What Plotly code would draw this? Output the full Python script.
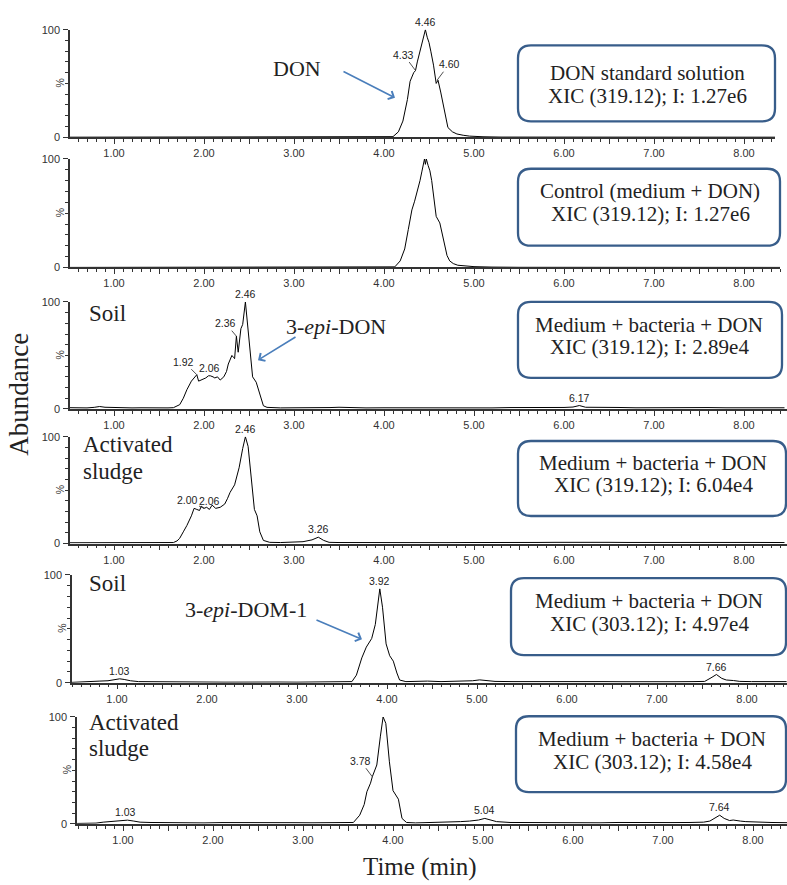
import plotly.graph_objects as go

W, H = 787, 885

# ---------------- data (retention time in min, relative abundance %) ----------------
t_don_std = [0.5, 4.00, 4.10, 4.16, 4.21, 4.26, 4.29, 4.33, 4.35, 4.37, 4.40, 4.42, 4.44, 4.46, 4.48,
             4.50, 4.52, 4.55, 4.58, 4.60, 4.63, 4.66, 4.68, 4.71, 4.76, 4.81, 4.88, 4.95, 5.10, 5.30, 8.40]
y_don_std = [0, 0, 0.5, 5, 15, 35, 52, 60, 62, 70, 80, 85, 94, 100, 93,
             88, 80, 67, 50, 53, 42, 30, 21, 9, 5, 3, 1.8, 1, 0.4, 0.1, 0]

t_control = [0.5, 4.05, 4.12, 4.18, 4.23, 4.27, 4.31, 4.34, 4.37, 4.40, 4.42, 4.44, 4.45, 4.46, 4.47,
             4.49, 4.51, 4.53, 4.55, 4.58, 4.62, 4.66, 4.70, 4.73, 4.77, 4.82, 4.90, 5.00, 5.20, 5.50, 8.40]
y_control = [0, 0, 0.5, 6, 17, 35, 53, 61, 70, 80, 88, 97, 100, 95, 100,
             94, 89, 80, 68, 47, 41, 26, 11, 6, 3.5, 2, 1.2, 0.7, 0.3, 0.1, 0]

t_soil_319 = [0.50, 0.60, 0.70, 0.78, 0.84, 0.90, 1.00, 1.10, 1.20, 1.30,
              1.40, 1.50, 1.60, 1.66, 1.70, 1.73, 1.77, 1.81, 1.86, 1.90,
              1.92, 1.94, 1.97, 1.99, 2.02, 2.05, 2.07, 2.10, 2.12, 2.15,
              2.18, 2.22, 2.25, 2.27, 2.29, 2.31, 2.33, 2.34, 2.36, 2.38,
              2.41, 2.43, 2.46, 2.49, 2.52, 2.54, 2.58, 2.62, 2.66, 2.70,
              2.76, 2.85, 3.00, 3.20, 3.40, 3.50, 3.60, 3.80, 4.00, 4.20,
              4.40, 4.60, 4.80, 5.00, 5.20, 5.40, 5.60, 5.80, 6.00, 6.10,
              6.17, 6.24, 6.40, 6.60, 6.80, 7.00, 7.20, 7.40, 7.60, 7.80,
              8.00, 8.20, 8.45]
y_soil_319 = [1.2, 1.0, 1.0, 1.5, 2.3, 1.6, 1.2, 1.3, 1.0, 1.1,
              0.9, 1.0, 1.0, 1.2, 2.5, 4, 10, 18, 26, 30,
              32, 26, 27, 28, 29, 31, 31, 30, 29, 30,
              27, 30, 35, 42, 47, 50, 48, 47, 68, 53,
              75, 79, 100, 75, 45, 30, 25, 14, 3, 1.5,
              1.2, 1.0, 1.1, 0.9, 1.3, 1.6, 1.2, 1.0, 1.1, 1.0,
              1.2, 1.4, 1.1, 1.2, 1.0, 1.3, 1.2, 1.1, 1.4, 1.8,
              3.2, 1.6, 1.2, 1.4, 1.1, 1.3, 1.2, 1.0, 1.3, 1.1,
              1.2, 1.0, 1.1]

t_sludge_319 = [0.50, 0.60, 0.70, 0.81, 0.90, 1.00, 1.10, 1.20, 1.30, 1.40,
                1.50, 1.60, 1.66, 1.70, 1.73, 1.77, 1.81, 1.86, 1.89, 1.92,
                1.95, 1.97, 2.00, 2.03, 2.06, 2.09, 2.13, 2.18, 2.23, 2.26,
                2.29, 2.34, 2.39, 2.43, 2.46, 2.49, 2.52, 2.56, 2.59, 2.62,
                2.66, 2.73, 2.85, 2.99, 3.10, 3.20, 3.27, 3.33, 3.39, 3.50,
                3.70, 3.90, 4.10, 4.30, 4.50, 4.70, 4.90, 5.10, 5.30, 5.50,
                5.70, 5.90, 6.10, 6.30, 6.50, 6.70, 6.90, 7.10, 7.30, 7.50,
                7.70, 7.90, 8.10, 8.45]
y_sludge_319 = [0.8, 0.8, 0.9, 1.4, 1.2, 1.0, 0.9, 1.0, 0.8, 0.9,
                0.8, 0.8, 1.0, 2.5, 5, 11, 17, 26, 33, 32,
                31, 35, 33, 34, 32, 36, 33, 34, 37, 42,
                48, 55, 71, 89, 100, 91, 63, 32, 26, 11,
                3, 1.2, 1.0, 1.5, 1.8, 3.5, 6, 3, 1.2, 1.0,
                0.9, 1.0, 0.8, 1.0, 1.1, 0.9, 1.0, 1.2, 1.0, 1.3,
                1.1, 1.2, 1.4, 1.0, 1.2, 1.1, 1.0, 1.2, 1.1, 1.0,
                1.2, 1.0, 1.1, 1.0]

t_soil_303 = [0.50, 0.60, 0.70, 0.81, 0.90, 0.97, 1.03, 1.08, 1.15, 1.24,
              1.40, 1.60, 1.80, 2.00, 2.20, 2.40, 2.60, 2.80, 3.00, 3.20,
              3.40, 3.55, 3.61, 3.66, 3.72, 3.77, 3.83, 3.87, 3.90, 3.92,
              3.95, 3.99, 4.03, 4.07, 4.11, 4.14, 4.21, 4.30, 4.45, 4.60,
              4.80, 4.95, 5.03, 5.10, 5.20, 5.40, 5.60, 5.80, 6.00, 6.20,
              6.40, 6.60, 6.80, 7.00, 7.20, 7.40, 7.53, 7.60, 7.66, 7.72,
              7.77, 7.85, 7.92, 8.05, 8.20, 8.44]
y_soil_303 = [0.3, 0.5, 0.6, 1.5, 1.8, 2.5, 3.6, 3.0, 1.8, 1.0,
              0.8, 0.6, 0.5, 0.6, 0.5, 0.7, 0.5, 0.6, 0.5, 0.6,
              0.5, 0.5, 1.0, 7, 23, 33, 41, 54, 73, 87,
              70, 36, 25, 20, 9, 2.5, 1.0, 1.2, 1.5, 1.0,
              1.2, 1.8, 2.6, 1.8, 1.2, 1.0, 1.1, 0.9, 1.0, 0.8,
              1.0, 0.9, 1.1, 1.0, 0.9, 1.0, 1.2, 4.5, 7.6, 4,
              2.5, 2.0, 1.2, 1.0, 0.9, 1.0]

t_sludge_303 = [0.49, 0.60, 0.70, 0.78, 0.85, 0.92, 1.00, 1.05, 1.12, 1.19,
                1.30, 1.50, 1.70, 1.90, 2.10, 2.30, 2.50, 2.70, 2.90, 3.10,
                3.30, 3.50, 3.56, 3.63, 3.68, 3.71, 3.75, 3.77, 3.82, 3.86,
                3.89, 3.92, 3.96, 4.00, 4.04, 4.06, 4.10, 4.15, 4.25, 4.40,
                4.60, 4.75, 4.85, 4.95, 5.02, 5.08, 5.15, 5.30, 5.50, 5.70,
                5.90, 6.10, 6.30, 6.50, 6.70, 6.90, 7.10, 7.30, 7.45, 7.52,
                7.58, 7.63, 7.68, 7.74, 7.78, 7.81, 7.86, 7.92, 8.05, 8.20,
                8.38]
y_sludge_303 = [0.3, 0.4, 0.6, 1.5, 2.0, 2.2, 3.0, 3.4, 2.5, 1.5,
                1.2, 0.9, 1.0, 0.8, 1.1, 0.9, 1.0, 0.8, 1.0, 0.9,
                0.8, 0.8, 1.2, 8, 18, 30, 38, 44, 55, 82,
                100, 94, 58, 31, 26, 23, 5, 1.2, 0.8, 1.0,
                1.2, 2.0, 2.5, 3.5, 5.0, 3.5, 2.0, 1.2, 1.0, 1.3,
                1.0, 1.1, 0.9, 1.2, 1.0, 1.3, 1.1, 1.2, 1.5, 2.5,
                5.5, 8.0, 5, 3, 3.5, 3, 2.5, 2.0, 1.5, 1.2,
                1.0]

series = [(t_don_std, y_don_std), (t_control, y_control), (t_soil_319, y_soil_319),
          (t_sludge_319, y_sludge_319), (t_soil_303, y_soil_303), (t_sludge_303, y_sludge_303)]
for tt, yy in series:
    assert len(tt) == len(yy), (len(tt), len(yy))

tick_major = [1.0, 1.5, 2.0, 2.5, 3.0, 3.5, 4.0, 4.5, 5.0, 5.5, 6.0, 6.5, 7.0, 7.5, 8.0]
tick_text = ["1.00", "", "2.00", "", "3.00", "", "4.00", "", "5.00", "", "6.00", "", "7.00", "", "8.00"]

box_line1 = ["DON standard solution", "Control (medium + DON)", "Medium + bacteria + DON",
             "Medium + bacteria + DON", "Medium + bacteria + DON", "Medium + bacteria + DON"]
box_line2 = ["XIC (319.12); I: 1.27e6", "XIC (319.12); I: 1.27e6", "XIC (319.12); I: 2.89e4",
             "XIC (319.12); I: 6.04e4", "XIC (303.12); I: 4.97e4", "XIC (303.12); I: 4.58e4"]

# peak labels: (panel, text, time, abundance, ax, ay)  ax/ay=None -> label sits above the point
peak_labels = [
    (0, "4.46", 4.46, 100, None, None), (0, "4.33", 4.35, 62, -12, -16), (0, "4.60", 4.59, 53, 12, -16),
    (2, "2.46", 2.46, 100, None, None), (2, "2.36", 2.36, 68, -11, -13), (2, "1.92", 1.92, 32, -13, -13),
    (2, "2.06", 2.06, 31, None, None), (2, "6.17", 6.17, 3.2, None, None),
    (3, "2.46", 2.46, 100, None, None), (3, "2.00", 2.00, 33, -17, -8), (3, "2.06", 2.06, 32, None, None),
    (3, "3.26", 3.27, 6, None, None),
    (4, "3.92", 3.92, 87, None, None), (4, "1.03", 1.03, 3.6, None, None), (4, "7.66", 7.66, 7.6, None, None),
    (5, "1.03", 1.03, 3.4, None, None), (5, "3.78", 3.77, 44, -12, -16), (5, "5.04", 5.02, 5.0, None, None),
    (5, "7.64", 7.63, 8.0, None, None),
]

# ---------------- layout geometry (pixels) ----------------
panels = [
    dict(xl=70, xr=775, one=114, y0=133, y100=24),
    dict(xl=70, xr=780, one=114, y0=265, y100=155),
    dict(xl=70, xr=787, one=114, y0=408.5, y100=300),
    dict(xl=70, xr=787, one=114, y0=545, y100=436.7),
    dict(xl=72, xr=787, one=117, y0=686, y100=576.7),
    dict(xl=77, xr=787, one=123, y0=829, y100=720.7),
]
boxes = [(518, 40, 775, 117), (518, 165, 780, 243), (518, 300, 782, 377),
         (518, 441, 786, 517), (511, 580, 786, 658), (516, 720, 786, 797)]
box_centers = [(647, 67, 90), (650, 187, 210), (649, 322, 345),
               (653, 462, 485), (649, 602, 625), (652, 742, 765)]

PX = 90.0
SERIF = "Liberation Serif, Times New Roman, serif"
SANS = "Arial, Liberation Sans, sans-serif"
AX = "#333333"
BOX = "#385d8a"
ARROW = "#4a7ebb"


def fx(x):
    return x / W


def fy(y):
    return 1 - y / H


fig = go.Figure()
layout = dict(width=W, height=H, margin=dict(l=0, r=0, t=0, b=0),
              paper_bgcolor="white", plot_bgcolor="white", showlegend=False)

annotations = []
shapes = []

for i, (p, (tt, yy)) in enumerate(zip(panels, series)):
    n = "" if i == 0 else str(i + 1)
    xr0 = (p["xl"] - p["one"]) / PX + 1
    xr1 = (p["xr"] - p["one"]) / PX + 1
    fig.add_trace(go.Scatter(x=tt, y=yy, mode="lines", line=dict(color="black", width=1),
                             xaxis="x" + n, yaxis="y" + n, cliponaxis=False, hoverinfo="skip"))
    layout["xaxis" + n] = dict(
        domain=[fx(p["xl"]), fx(p["xr"])], range=[xr0, xr1], anchor="y" + n,
        tickmode="array", tickvals=tick_major, ticktext=tick_text,
        ticks="outside", ticklen=5, tickwidth=1, tickcolor=AX,
        minor=dict(tickmode="linear", tick0=0, dtick=0.1, ticks="outside", ticklen=3, tickwidth=1, tickcolor=AX),
        showline=True, linecolor=AX, linewidth=1.5, showgrid=False, zeroline=False,
        tickfont=dict(family=SANS, size=11, color=AX), fixedrange=True)
    layout["yaxis" + n] = dict(
        domain=[fy(p["y0"]), fy(p["y100"])], range=[0, 100], anchor="x" + n,
        tickmode="array", tickvals=[0, 100], ticktext=["0", "100"],
        ticks="outside", ticklen=5, tickwidth=1, tickcolor=AX,
        minor=dict(tickmode="linear", tick0=0, dtick=10, ticks="outside", ticklen=3, tickwidth=1, tickcolor=AX),
        showline=True, linecolor=AX, linewidth=1.5, showgrid=False, zeroline=False,
        tickfont=dict(family=SANS, size=11, color=AX), ticklabelstandoff=1, fixedrange=True)
    # "%" label
    annotations.append(dict(xref="paper", yref="paper", x=fx(p["xl"] - 10), y=fy((p["y0"] + p["y100"]) / 2),
                            text="%", textangle=-90, showarrow=False, xanchor="center", yanchor="middle",
                            font=dict(family=SANS, size=10.5, color=AX)))
    # rounded box
    x0, y0, x1, y1 = boxes[i]
    r = 13
    path = (f"M {fx(x0 + r)},{fy(y0)} L {fx(x1 - r)},{fy(y0)} Q {fx(x1)},{fy(y0)} {fx(x1)},{fy(y0 + r)} "
            f"L {fx(x1)},{fy(y1 - r)} Q {fx(x1)},{fy(y1)} {fx(x1 - r)},{fy(y1)} "
            f"L {fx(x0 + r)},{fy(y1)} Q {fx(x0)},{fy(y1)} {fx(x0)},{fy(y1 - r)} "
            f"L {fx(x0)},{fy(y0 + r)} Q {fx(x0)},{fy(y0)} {fx(x0 + r)},{fy(y0)} Z")
    shapes.append(dict(type="path", xref="paper", yref="paper", path=path,
                       line=dict(color=BOX, width=2.3), fillcolor="rgba(0,0,0,0)"))
    cx, cy1, cy2 = box_centers[i]
    for txt, cy in ((box_line1[i], cy1), (box_line2[i], cy2)):
        annotations.append(dict(xref="paper", yref="paper", x=fx(cx), y=fy(cy + 1), text=txt, showarrow=False,
                                xanchor="center", yanchor="middle",
                                font=dict(family=SERIF, size=21, color="#222222")))

# peak labels
for (pi, txt, t, v, ax, ay) in peak_labels:
    n = "" if pi == 0 else str(pi + 1)
    a = dict(xref="x" + n, yref="y" + n, x=t, y=v, text=txt,
             font=dict(family=SANS, size=10.5, color="#222222"))
    if ax is None:
        a.update(showarrow=False, xanchor="center", yanchor="bottom", yshift=0)
    else:
        a.update(showarrow=True, ax=ax, ay=ay, arrowhead=0, arrowwidth=0.8, arrowcolor="#222222",
                 standoff=0, startstandoff=0)
    annotations.append(a)

# sample / compound labels
def serif_text(x, y, txt, size, anchor="center", angle=0):
    annotations.append(dict(xref="paper", yref="paper", x=fx(x), y=fy(y), text=txt, showarrow=False,
                            xanchor=anchor, yanchor="middle", textangle=angle,
                            font=dict(family=SERIF, size=size, color="#222222")))

serif_text(297, 63, "DON", 22)
serif_text(107, 312, "Soil", 23)
serif_text(336, 325, "3-<i>epi</i>-DON", 22)
serif_text(81, 445, "Activated", 23, "left")
serif_text(81, 472, "sludge", 23, "left")
serif_text(107, 585, "Soil", 23)
serif_text(246, 612, "3-<i>epi</i>-DOM-1", 22)
serif_text(87, 726, "Activated", 23, "left")
serif_text(87, 753, "sludge", 23, "left")
serif_text(19, 394, "Abundance", 27, angle=-90)
serif_text(420, 873, "Time (min)", 25)

# blue arrows (start pixel -> end pixel)
for (xs, ys, xe, ye) in [(342, 66, 395, 93), (297, 335, 258, 359), (315, 622, 362, 642)]:
    annotations.append(dict(xref="paper", yref="paper", x=fx(xe), y=fy(ye), ax=xs - xe, ay=ys - ye,
                            axref="pixel", ayref="pixel", text="", showarrow=True,
                            arrowhead=4, arrowsize=1.1, arrowwidth=1.6, arrowcolor=ARROW))

layout["annotations"] = annotations
layout["shapes"] = shapes
fig.update_layout(**layout)
fig.write_html("out.html", config={"displayModeBar": False},
               post_script="document.body.style.margin='0';document.body.style.overflow='hidden';")
